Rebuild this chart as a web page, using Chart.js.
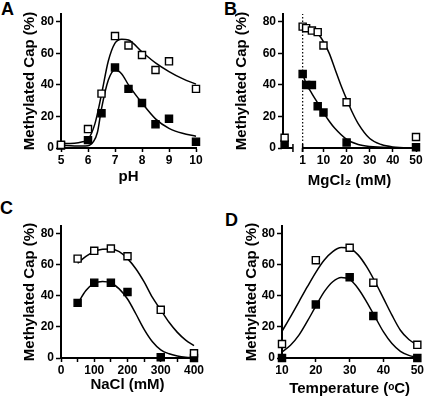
<!DOCTYPE html>
<html>
<head>
<meta charset="utf-8">
<script src="https://cdn.jsdelivr.net/npm/chart.js@4.4.0/dist/chart.umd.min.js"></script>
<style>
  body { margin: 0; background: #fff; width: 425px; height: 398px; position: relative; overflow: hidden; }
  canvas { position: absolute; }
  .lbl { position: absolute; font: bold 18px 'Liberation Sans', Arial, sans-serif; line-height: 1; color: #000; }
</style>
</head>
<body>
<div class="lbl" style="left:1px;top:0px">A</div>
<div class="lbl" style="left:224px;top:0px">B</div>
<div class="lbl" style="left:0px;top:199px">C</div>
<div class="lbl" style="left:225px;top:211px">D</div>
<canvas id="chartA" width="212" height="199" style="left:0;top:0"></canvas>
<canvas id="chartB" width="213" height="199" style="left:212px;top:0"></canvas>
<canvas id="chartC" width="212" height="198" style="left:0;top:200px"></canvas>
<canvas id="chartD" width="213" height="198" style="left:212px;top:200px"></canvas>
<script>
// shared y axis
const yTicks = [0, 20, 40, 60, 80];

// A - pH
const phX = [5, 6, 6.5, 7, 7.5, 8, 8.5, 9, 10];
const phOpen = [2, 12, 34.5, 71, 65, 59, 49.5, 55, 37.5];
const phFilled = [1.5, 5, 22, 51, 37.5, 28.5, 15, 18.5, 4];
const phFitX = [5, 5.5, 5.8, 6, 6.25, 6.5, 6.75, 7, 7.25, 7.5, 8, 8.5, 9, 9.5, 10];
const phFitOpen = [2.8, 3, 4, 5.5, 15, 34, 55, 66.5, 69, 68.5, 61, 54, 48.5, 44, 40.5];
const phFitX2 = [5, 5.5, 6, 6.2, 6.35, 6.5, 6.75, 7, 7.25, 7.5, 8, 8.5, 9, 9.5, 10];
const phFitFilled = [1.8, 1.3, 1.5, 4, 10, 25, 43, 49.5, 47, 40, 28.5, 18.5, 12.5, 9.3, 7.5];
const phTicks = [5, 6, 7, 8, 9, 10];

// B - MgCl2 (control without MgCl2 sits on the short left segment)
const mgCtrlX = [-6.8];
const mgCtrlOpen = [6.5];
const mgCtrlFilled = [2.5];
const mgX = [1, 2.5, 5, 7.5, 10, 20, 50];
const mgOpen = [77, 76, 74.5, 73.5, 65, 29, 7];
const mgFilled = [47, 40, 40, 26.5, 22.5, 3.5, 0.5];
const mgFitX = [1, 5, 7.5, 10, 12.5, 15, 17.5, 20, 22.5, 25, 30, 35, 40, 50];
const mgFitOpen = [76.5, 74.5, 72.5, 67.5, 60, 50, 40, 31, 22.5, 15.5, 6, 2.2, 0.7, 0];
const mgFitX2 = [1, 2.5, 5, 7.5, 10, 12.5, 15, 20, 25, 30, 40, 50];
const mgFitFilled = [47, 41, 34.5, 28.5, 22.5, 17, 12.3, 5.5, 2.2, 0.9, 0.2, 0];
const mgTicks = [1, 10, 20, 30, 40, 50];
const mgBreak = [-3.2, 1];

// C - NaCl
const naclX = [50, 100, 150, 200, 300, 400];
const naclOpen = [64, 69, 70.5, 65.5, 31, 3];
const naclFilled = [35.5, 48.5, 48.5, 42.5, 0.5, 0];
const naclFitX = [50, 75, 100, 125, 150, 175, 200, 225, 250, 275, 300, 325, 350, 375, 400];
const naclFitOpen = [61, 65.5, 68.5, 70, 70.2, 68.5, 64, 57.5, 49, 39, 31, 23, 16.5, 11.5, 8];
const naclFitFilled = [35, 43.5, 48, 49.3, 48.3, 44.5, 38, 28.5, 18.5, 10.5, 5.3, 2.7, 1.3, 0.5, 0.2];
const naclTicks = [0, 50, 100, 150, 200, 250, 300, 350, 400];
const naclLabels = ['0', '', '100', '', '200', '', '300', '', '400'];

// D - temperature
const tempX = [10, 20, 30, 37, 50];
const tempOpen = [9, 63, 71, 48.5, 8.5];
const tempFilled = [0, 34.5, 52, 27, 0];
const tempFitX = [10, 12.5, 15, 17.5, 20, 22.5, 25, 27.5, 30, 32.5, 35, 37.5, 40, 42.5, 45, 47.5, 50];
const tempFitOpen = [17.2, 26.5, 36.2, 45.9, 55.2, 63.1, 68.5, 71.1, 70.5, 66.4, 58.8, 49.1, 38.4, 27.6, 17.9, 11.9, 8.2];
const tempFitFilled = [3.9, 8.2, 14.7, 23.7, 33.4, 42.7, 49.1, 51.9, 50.6, 44.8, 36.2, 26.5, 16.8, 9.3, 4.3, 1.7, 0.4];
const tempTicks = [10, 20, 30, 40, 50];

Chart.defaults.font.family = "'Liberation Sans', Arial, sans-serif";
Chart.defaults.font.weight = 'bold';
Chart.defaults.color = '#000';

const pts = (xs, ys) => xs.map((x, i) => ({ x: x, y: ys[i] }));

function squares(xs, ys, fill) {
  return {
    data: pts(xs, ys), showLine: false, pointStyle: 'rect', pointRadius: 5,
    pointBorderWidth: 1.4, pointBorderColor: '#000', pointBackgroundColor: fill, clip: false
  };
}
function curve(xs, ys) {
  return {
    data: pts(xs, ys), showLine: true, pointRadius: 0, borderColor: '#000',
    borderWidth: 1.5, cubicInterpolationMode: 'monotone', clip: false
  };
}

function panel(id, o) {
  new Chart(document.getElementById(id), {
    type: 'scatter',
    data: { datasets: o.datasets },
    options: {
      responsive: false,
      animation: false,
      layout: { padding: { top: o.top, right: o.right, left: 0, bottom: 0 } },
      plugins: { legend: { display: false }, tooltip: { enabled: false } },
      scales: {
        x: {
          type: 'linear', min: o.xmin, max: o.xmax,
          afterBuildTicks: s => { s.ticks = o.xticks.map(v => ({ value: v })); },
          afterFit: s => { s.height = o.xh; },
          grid: { drawOnChartArea: false, tickLength: 4, tickWidth: 1.5, tickColor: '#000' },
          border: { display: o.xborder !== false, color: '#000', width: 2 },
          ticks: { padding: 1, autoSkip: false, maxRotation: 0, font: { size: 12 },
                   callback: o.xlabel || (v => String(v)) },
          title: { display: true, text: o.xtitle, font: { size: 15 }, padding: { top: 0, bottom: o.xtp } }
        },
        y: {
          min: 0, max: 85,
          afterBuildTicks: s => { s.ticks = yTicks.map(v => ({ value: v })); },
          afterFit: s => { s.width = o.yw; },
          grid: { drawOnChartArea: false, tickLength: 5, tickWidth: 1.5, tickColor: '#000' },
          border: { color: '#000', width: 2 },
          ticks: { padding: 2, font: { size: 12 } },
          title: { display: true, text: 'Methylated Cap (%)', font: { size: 15 }, padding: { top: o.ytp, bottom: 0 } }
        }
      }
    },
    plugins: o.plugins || []
  });
}

// broken x axis for panel B
const breakAxis = {
  id: 'breakAxis',
  beforeDatasetsDraw(chart) {
    const { ctx, scales: { x, y } } = chart;
    const y0 = y.getPixelForValue(0);
    ctx.save();
    ctx.strokeStyle = '#000';
    ctx.lineWidth = 2;
    ctx.beginPath();
    ctx.moveTo(x.getPixelForValue(x.min) - 1, y0);
    ctx.lineTo(x.getPixelForValue(mgBreak[0]), y0);
    ctx.moveTo(x.getPixelForValue(mgBreak[1]), y0);
    ctx.lineTo(x.getPixelForValue(x.max), y0);
    ctx.stroke();
    ctx.lineWidth = 1.5;
    ctx.beginPath();
    mgBreak.forEach(v => {
      const px = x.getPixelForValue(v);
      ctx.moveTo(px, y0 - 4);
      ctx.lineTo(px, y0 + 4);
    });
    ctx.stroke();
    ctx.restore();
  }
};

panel('chartA', {
  datasets: [
    squares(phX, phOpen, '#fff'), squares(phX, phFilled, '#000'),
    curve(phFitX, phFitOpen), curve(phFitX2, phFitFilled)
  ],
  xmin: 5, xmax: 10, xticks: phTicks, xtitle: 'pH',
  top: 14, right: 16, yw: 61, xh: 51, ytp: 21, xtp: 13
});

panel('chartB', {
  datasets: [
    squares(mgX, mgOpen, '#fff'), squares(mgX, mgFilled, '#000'),
    squares(mgCtrlX, mgCtrlOpen, '#fff'), squares(mgCtrlX, mgCtrlFilled, '#000'),
    curve(mgFitX, mgFitOpen), curve(mgFitX2, mgFitFilled),
    { data: pts([1, 1], [0, 85]), showLine: true, pointRadius: 0, borderColor: '#000',
      borderWidth: 1.2, borderDash: [1.5, 2] }
  ],
  xmin: -7.5, xmax: 50, xticks: mgTicks, xtitle: 'MgCl\u2082 (mM)', xborder: false,
  top: 14, right: 9, yw: 71, xh: 51, ytp: 21, xtp: 9,
  plugins: [breakAxis]
});

panel('chartC', {
  datasets: [
    squares(naclX, naclOpen, '#fff'), squares(naclX, naclFilled, '#000'),
    curve(naclFitX, naclFitOpen), curve(naclFitX, naclFitFilled)
  ],
  xmin: 0, xmax: 400, xticks: naclTicks, xtitle: 'NaCl (mM)',
  xlabel: (v, i) => naclLabels[i],
  top: 26, right: 18, yw: 61, xh: 40, ytp: 21, xtp: 4
});

panel('chartD', {
  datasets: [
    squares(tempX, tempOpen, '#fff'), squares(tempX, tempFilled, '#000'),
    curve(tempFitX, tempFitOpen), curve(tempFitX, tempFitFilled)
  ],
  xmin: 10, xmax: 50, xticks: tempTicks, xtitle: 'Temperature (\u1d52C)',
  top: 26, right: 7, yw: 70, xh: 40, ytp: 31, xtp: 0
});
</script>
</body>
</html>
